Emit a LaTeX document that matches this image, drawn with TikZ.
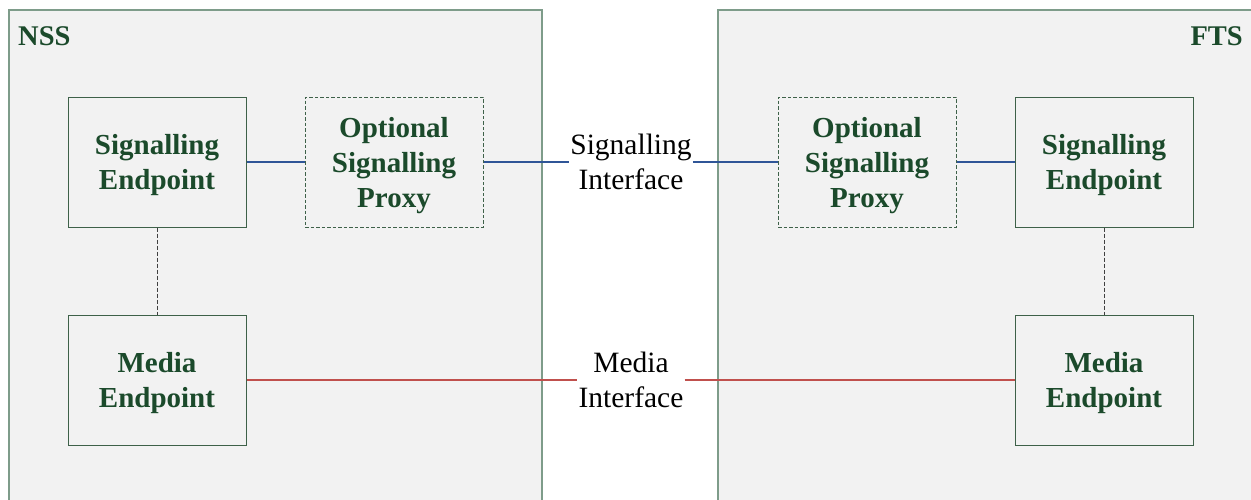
\documentclass[tikz,border=0pt]{standalone}
\usepackage{fontspec}
\setmainfont{Liberation Serif}
\definecolor{boxfill}{HTML}{F2F2F2}
\definecolor{txtgreen}{HTML}{1B4A2B}
\definecolor{outerline}{HTML}{7E9C8A}
\definecolor{innerline}{HTML}{3E6149}
\definecolor{sigblue}{HTML}{2F5597}
\definecolor{medred}{HTML}{C0504D}
\newcommand\toplift{\rule{0pt}{27pt}}
\tikzset{
  outerbox/.style={draw=outerline, fill=boxfill, line width=1.2pt},
  ep/.style={draw=innerline, fill=boxfill, line width=1pt, minimum width=178pt, minimum height=130pt,
    align=center, text=txtgreen, font=\fontsize{29}{35}\selectfont\bfseries, inner sep=0pt},
  proxy/.style={ep, dash pattern=on 3.5pt off 2pt},
  lbl/.style={font=\fontsize{28.5}{35}\selectfont\bfseries, text=txtgreen, inner sep=0pt},
  iface/.style={align=center, font=\fontsize{29.5}{35}\selectfont, inner sep=1pt},
  sigline/.style={draw=sigblue, line width=2.5pt},
  medline/.style={draw=medred, line width=2.5pt},
  vlink/.style={draw=black!75, line width=0.9pt, dash pattern=on 4pt off 2pt}
}
\begin{document}
\begin{tikzpicture}[x=1pt,y=-1pt]
\useasboundingbox (0,0) rectangle (1251,499);
\clip (0,0) rectangle (1251,499);
\fill[white] (0,0) rectangle (1251,499);
\draw[outerbox] (9,10) rectangle (542,520);
\draw[outerbox] (718,10) rectangle (1270,520);
\node[lbl, anchor=north west] (nss) at (18,26) {NSS};
\node[lbl, anchor=north east] (fts) at (1243,26) {FTS};

\node[ep] (nsig) at (157,162) {\toplift Signalling\\Endpoint};
\node[proxy] (nprox) at (394,162) {\toplift Optional\\Signalling\\Proxy};
\node[ep] (nmed) at (157,380) {\toplift Media\\Endpoint};
\node[proxy] (fprox) at (867,162) {\toplift Optional\\Signalling\\Proxy};
\node[ep] (fsig) at (1104,162) {\toplift Signalling\\Endpoint};
\node[ep] (fmed) at (1104,380) {\toplift Media\\Endpoint};

\node[iface] (sigif) at (631,162) {Signalling\\Interface};
\node[iface] (medif) at (631,380) {Media\\Interface};

\draw[sigline] (nsig.east) -- (nprox.west);
\draw[sigline] (nprox.east) -- (sigif.west);
\draw[sigline] (sigif.east) -- (fprox.west);
\draw[sigline] (fprox.east) -- (fsig.west);
\draw[medline] (nmed.east) -- (medif.west);
\draw[medline] (medif.east) -- (fmed.west);
\draw[vlink] (nsig.south) -- (nmed.north);
\draw[vlink] (fsig.south) -- (fmed.north);
\end{tikzpicture}
\end{document}
